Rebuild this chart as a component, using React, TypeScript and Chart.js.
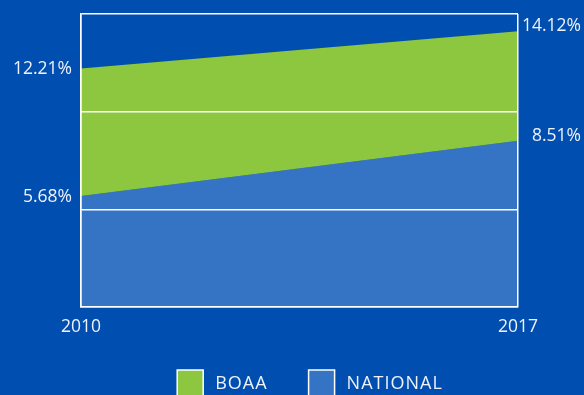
import React, { useEffect, useRef } from "react";
import { Chart, registerables } from "chart.js";

Chart.register(...registerables);

const categories = ["2010", "2017"];
const boaaValues = [12.21, 14.12];
const nationalValues = [5.68, 8.51];
const seriesNames = ["BOAA", "NATIONAL"];
const yTicks = [0, 5, 10, 15];

const BG = "#004EAF";
const GREEN = "#8DC63F";
const LIGHTBLUE = "#3574C4";
const TEXT = "#EEF2FA";
const FONT = "'Open Sans', sans-serif";

const labelsPlugin = {
  id: "customLabels",
  afterDraw(chart: any) {
    const ctx = chart.ctx;
    const xs = chart.scales.x;
    const ys = chart.scales.y;
    const area = chart.chartArea;
    ctx.save();
    ctx.fillStyle = TEXT;
    ctx.font = `17.5px ${FONT}`;
    ctx.textBaseline = "middle";
    // value labels
    chart.data.datasets.forEach((ds: any) => {
      const v0 = ds.data[0];
      const v1 = ds.data[ds.data.length - 1];
      ctx.textAlign = "right";
      ctx.fillText(v0.toFixed(2) + "%", area.left - 9, ys.getPixelForValue(v0) + 1);
      ctx.fillText(v1.toFixed(2) + "%", 581, ys.getPixelForValue(v1) - 5);
    });
    // x labels
    ctx.textAlign = "center";
    chart.data.labels.forEach((l: string, i: number) => {
      ctx.fillText(l, xs.getPixelForValue(i), 327);
    });
    // legend
    ctx.font = `18px ${FONT}`;
    (ctx as any).letterSpacing = "1px";
    const box = 26;
    const gapText = 12;
    const gapItem = 41;
    const items = chart.data.datasets.map((ds: any) => ({
      label: ds.label,
      color: ds.backgroundColor,
      w: box + gapText + ctx.measureText(ds.label).width,
    }));
    const total = items.reduce((s: number, it: any) => s + it.w, 0) + gapItem * (items.length - 1);
    let x = 310 - total / 2;
    const top = 370;
    items.forEach((it: any) => {
      ctx.fillStyle = it.color;
      ctx.fillRect(x, top, box, box);
      ctx.strokeStyle = "#FFFFFF";
      ctx.lineWidth = 1.5;
      ctx.strokeRect(x, top, box, box);
      ctx.fillStyle = TEXT;
      ctx.textAlign = "left";
      ctx.fillText(it.label, x + box + gapText, top + 14);
      x += it.w + gapItem;
    });
    ctx.restore();
  },
};

export default function App() {
  const ref = useRef<HTMLCanvasElement | null>(null);
  useEffect(() => {
    if (!ref.current) return;
    const chart = new Chart(ref.current, {
      type: "line",
      data: {
        labels: categories,
        datasets: [
          {
            label: seriesNames[0],
            data: boaaValues,
            backgroundColor: GREEN,
            borderWidth: 0,
            pointRadius: 0,
            fill: 1,
          },
          {
            label: seriesNames[1],
            data: nationalValues,
            backgroundColor: LIGHTBLUE,
            borderWidth: 0,
            pointRadius: 0,
            fill: "origin",
          },
        ],
      },
      options: {
        responsive: false,
        animation: false,
        layout: { padding: { left: 81, right: 66, top: 14, bottom: 88 } },
        plugins: { legend: { display: false }, tooltip: { enabled: false } },
        scales: {
          x: {
            type: "category",
            offset: false,
            grid: { color: "#FFFFFF", lineWidth: 1.5, drawTicks: false, z: 1 },
            border: { color: "#FFFFFF", width: 1.5, z: 1 },
            ticks: { display: false },
          },
          y: {
            min: yTicks[0],
            max: yTicks[yTicks.length - 1],
            afterBuildTicks: (s: any) => {
              s.ticks = yTicks.map((v) => ({ value: v }));
            },
            grid: { color: "#FFFFFF", lineWidth: 1.5, drawTicks: false, z: 1 },
            border: { color: "#FFFFFF", width: 1.5, z: 1 },
            ticks: { display: false },
          },
        },
      },
      plugins: [labelsPlugin],
    } as any);
    return () => chart.destroy();
  }, []);
  return (
    <div style={{ position: "fixed", left: 0, top: 0, width: 584, height: 395, background: BG }}>
      <canvas ref={ref} width={584} height={395} style={{ display: "block" }} />
    </div>
  );
}
